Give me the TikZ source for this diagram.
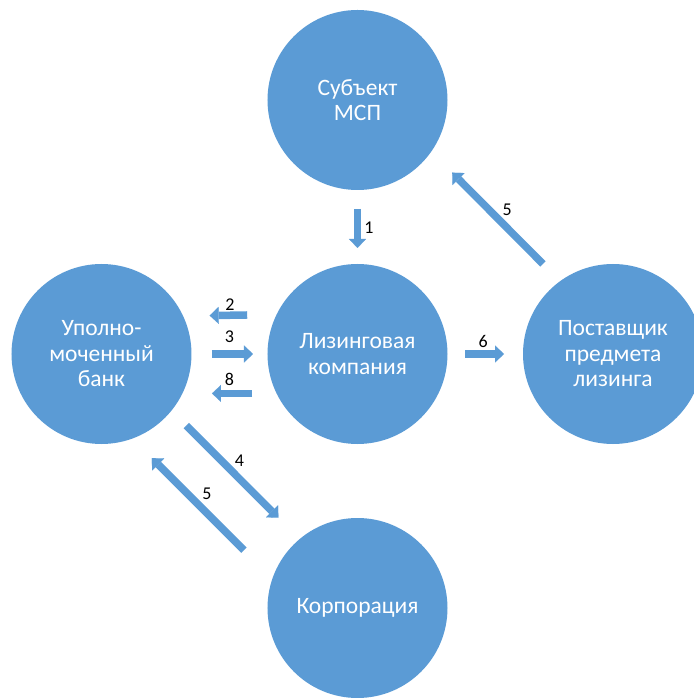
\documentclass[tikz,border=0pt]{standalone}
\usepackage{fontspec}
\setmainfont{Carlito}
\usetikzlibrary{positioning,arrows.meta}
\definecolor{circblue}{RGB}{91,155,213}

\begin{document}
\begin{tikzpicture}[%
	party node/.style={
		circle,
		fill=circblue,
		minimum size=180pt,
		inner sep=0pt,
		outer sep=0pt,
		text=white,
		font=\fontsize{23.5}{25.5}\selectfont,
		align=center
	},
	flow/.style={
		draw=circblue,
		line width=7.5pt,
		-{Triangle[length=9pt,width=17pt,line width=0.1pt,color=circblue,fill=circblue]}
	},
	num/.style={
		font=\fontsize{18}{20}\selectfont,
		text=black,
		inner sep=0pt
	},
]
	\useasboundingbox (-357.5pt,-344pt) rectangle (335.5pt,354pt);
	\node[party node] (lc) {Лизинговая \\ компания};
	\node[party node] (msp) [above = 74pt of lc] {Субъект \\ МСП};
	\node[party node] (bank) [left = 76pt of lc] {Уполно- \\ моченный \\ банк};
	\node[party node] (post) [right = 75.5pt of lc] {Поставщик \\ предмета \\ лизинга};
	\node[party node] (korp) [below = 74pt of lc] {Корпорация};
	\path
	(msp.south) edge[flow, shorten <=19pt, shorten >=16pt] node[num, xshift=11.5pt, yshift=-1pt] {1} (lc.north)
	(lc.154.3) edge[flow, shorten <=29.4pt, shorten >=26.6pt] node[num, yshift=11pt] {2} (bank.25.7)
	(bank.east) edge[flow, shorten <=20.5pt, shorten >=14.5pt] node[num, yshift=17pt] {3} (lc.west)
	(lc.206) edge[flow, shorten <=24.6pt, shorten >=29.6pt] node[num, yshift=14pt] {8} (bank.-26)
	(lc.east) edge[flow, shorten <=17.5pt, shorten >=19pt] node[num, xshift=-2pt, yshift=13pt] {6} (post.west)
	(post.126) edge[flow, shorten <=24.3pt, shorten >=29.7pt] node[num, xshift=11.4pt, yshift=6.6pt] {5} (msp.-35)
	(bank.-39) edge[flow, shorten <=21.1pt, shorten >=30.1pt] node[num, xshift=3.8pt, yshift=14.2pt] {4} (korp.130)
	(korp.161) edge[flow, shorten <=40.3pt, shorten >=27.6pt] node[num, xshift=4.6pt, yshift=14.7pt] {5} (bank.-70);
\end{tikzpicture}
\end{document}
